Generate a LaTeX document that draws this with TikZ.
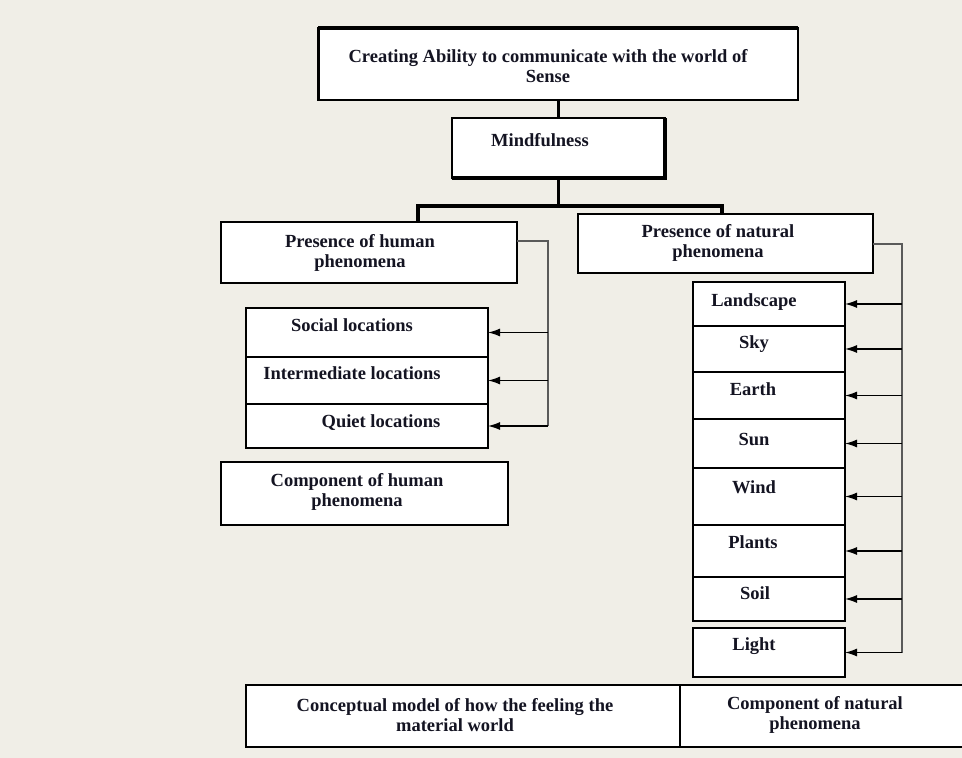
\documentclass[tikz,border=0pt]{standalone}
\usepackage{fontspec}
\setmainfont{Liberation Serif}
\usetikzlibrary{arrows.meta,positioning,calc}
\definecolor{paper}{RGB}{240,238,231}
\definecolor{ink}{RGB}{20,20,34}
\definecolor{busgray}{RGB}{90,90,90}

\tikzset{
  box/.style={draw=black, fill=white, line width=1.5pt, inner sep=0pt, outer sep=0pt},
  txt/.style={font=\bfseries\fontsize{18.5}{20}\selectfont, text=ink, inner sep=0pt, align=center},
  tree/.style={line width=3.5pt, black},
  bus/.style={line width=2pt, busgray},
  feed/.style={line width=1.3pt, black, -{Latex[length=12pt,width=8pt]}}
}

\begin{document}
\begin{tikzpicture}[x=1pt,y=-1pt]
    \fill[paper] (0,0) rectangle (962,758);
    \useasboundingbox (0,0) rectangle (962,758);

    % boxes
    \node[box, minimum width=480, minimum height=72] (top) at (558,64) {};
    \node[box, minimum width=213, minimum height=60] (mind) at (558.5,148) {};
    \node[box, minimum width=296, minimum height=61] (hum) at (369,252.5) {};
    \node[box, minimum width=242, minimum height=49] (soc) at (367,332.5) {};
    \node[box, minimum width=242, minimum height=47] (inter) at (367,380.5) {};
    \node[box, minimum width=242, minimum height=44] (quiet) at (367,426) {};
    \node[box, minimum width=287, minimum height=63] (comph) at (364.5,493.5) {};
    \node[box, minimum width=295, minimum height=59] (nat) at (725.5,243.5) {};
    \node[box, minimum width=152, minimum height=44] (land) at (769,304) {};
    \node[box, minimum width=152, minimum height=46] (sky) at (769,349) {};
    \node[box, minimum width=152, minimum height=47] (earth) at (769,395.5) {};
    \node[box, minimum width=152, minimum height=49] (sun) at (769,443.5) {};
    \node[box, minimum width=152, minimum height=57] (wind) at (769,496.5) {};
    \node[box, minimum width=152, minimum height=52] (plants) at (769,551) {};
    \node[box, minimum width=152, minimum height=44] (soil) at (769,599) {};
    \node[box, minimum width=152, minimum height=49] (light) at (769,652.5) {};
    \node[box, minimum width=434, minimum height=62] (concept) at (463,716) {};
    \node[box, minimum width=284, minimum height=62] (compn) at (822,716) {};

    % heavy edges
    \draw[line width=4.5pt] (top.north west) -- (top.north east);
    \draw[line width=3pt] (top.north west) -- (top.south west);
    \draw[line width=4pt] (mind.north east) -- (mind.south east) -- (mind.south west);

    % tree
    \coordinate (split) at (558.5,206);
    \coordinate (hl) at (418,206);
    \coordinate (hr) at (722,206);
    \draw[tree] (top.south -| mind.north) -- (mind.north);
    \draw[tree] (mind.south) -- (split);
    \draw[tree] (hl |- hum.north) -- (hl) -- (hr) -- (hr |- nat.north);

    % human side
    \coordinate (hbus) at (548,0);
    \draw[bus] ([yshift=12pt]hum.east) -| (hbus |- quiet.east);
    \foreach \n in {soc,inter,quiet}
      \draw[feed] (hbus |- \n.east) -- (\n.east);

    % natural side
    \coordinate (nbus) at (902,0);
    \draw[bus] (nat.east) -| (nbus |- light.east);
    \foreach \n in {land,sky,earth,sun,wind,plants,soil,light}
      \draw[feed] (nbus |- \n.east) -- (\n.east);

    % texts
    \node[txt] (ttop) at (548,66) {Creating Ability to communicate with the world of\\Sense};
    \node[txt, anchor=base] (tmind) at (540,146) {Mindfulness};
    \node[txt] (thum) at (360,253) {Presence of human\\phenomena};
    \node[txt, anchor=base] (tsoc) at (352,331) {Social locations};
    \node[txt, anchor=base] (tinter) at (352,379) {Intermediate locations};
    \node[txt, anchor=base] (tquiet) at (381,427) {Quiet locations};
    \node[txt] (tcomph) at (357,492) {Component of human\\phenomena};
    \node[txt] (tnat) at (718,243) {Presence of natural\\phenomena};
    \node[txt, anchor=base] (tland) at (754,306) {Landscape};
    \node[txt, anchor=base] (tsky) at (754,348) {Sky};
    \node[txt, anchor=base] (tearth) at (753,395) {Earth};
    \node[txt, anchor=base] (tsun) at (754,445) {Sun};
    \node[txt, anchor=base] (twind) at (754,493) {Wind};
    \node[txt, anchor=base] (tplants) at (753,548) {Plants};
    \node[txt, anchor=base] (tsoil) at (755,599) {Soil};
    \node[txt, anchor=base] (tlight) at (754,650) {Light};
    \node[txt] (tconcept) at (455,715) {Conceptual model of how the feeling the\\material world};
    \node[txt] (tcompn) at (815,715) {Component of natural\\phenomena};
\end{tikzpicture}
\end{document}
